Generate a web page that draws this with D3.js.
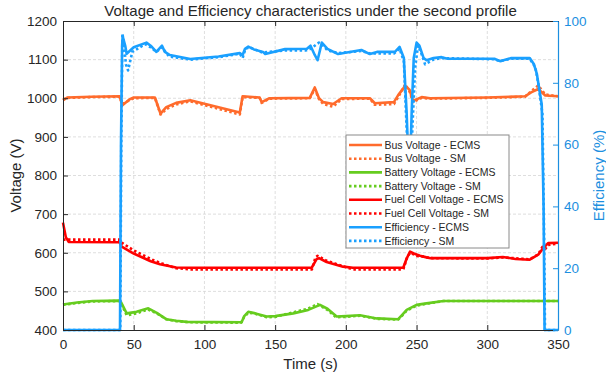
<!DOCTYPE html>
<html>
<head>
<meta charset="utf-8">
<script src="https://cdn.jsdelivr.net/npm/d3@7"></script>
<style>
  html, body { margin: 0; padding: 0; background: #fff; }
  svg { display: block; font-family: "Liberation Sans", Arial, sans-serif; }
</style>
</head>
<body>
<div id="chart"></div>
<script>
// ---------------- DATA ----------------
const xTicks = [0, 50, 100, 150, 200, 250, 300, 350];
const yLeftTicks = [400, 500, 600, 700, 800, 900, 1000, 1100, 1200];
const yRightTicks = [0, 20, 40, 60, 80, 100];

// [time (s), voltage (V)]
const busECMS = [[0,995],[3,1002],[20,1004],[40,1005],[42,982],[47,997],[50,1002],[65,1002],[69,960],[73,977],[80,988],[90,995],[125,963],[127,1005],[139,1002],[140.5,990],[146,1000],[174.5,1001],[178,1028],[181,1000],[184,990],[191,985],[197,1000],[217,1000],[220.5,987],[234,990],[237,1008],[242,1032],[245,1022],[247.5,993],[253.6,1003],[259.5,1000],[300,1002],[326.7,1005],[331,1015],[336,1024],[341,1007],[350,1005]];
const busSM = [[0,996],[3,1001],[20,1003],[40,1004],[42,985],[47,995],[50,1000],[65,1001],[69,958],[73,972],[80,984],[90,992],[125,958],[127,1003],[139,1001],[140.5,988],[146,999],[174.5,1000],[178,1024],[181,998],[184,985],[191,978],[197,998],[217,999],[220.5,983],[234,985],[237,1003],[242,1036],[245,1018],[247.5,990],[253.6,1001],[259.5,999],[300,1001],[326.7,1004],[331,1018],[336,1033],[341,1010],[350,1005]];
const batECMS = [[0,466],[10,471],[21,475],[40,476],[41,472],[45,443],[52,447],[60.3,456],[66,445],[73,428],[80,424],[87.4,421],[126.3,420],[128,435],[131,447],[136,443],[144,435],[150,436],[162.8,443],[173.4,452],[181.7,465],[187,455],[193.5,435],[200,436],[210,438],[221.8,430],[237,428],[240,440],[243,452],[250,465],[257,469],[269,475],[350,475]];
const batSM = [[0,465],[10,470],[21,474],[40,475],[41,470],[45,438],[52,443],[60,453],[66,444],[73,428],[80,423],[90,420],[126,419],[128,433],[131,445],[136,442],[144,433],[150,434],[162,445],[173,455],[180,467],[187,452],[193,433],[200,434],[210,437],[222,429],[237,427],[240,438],[243,450],[250,463],[257,468],[269,475],[350,475]];
const fcECMS = [[0,678],[2,640],[4,628],[40,627],[41.5,616],[50,598],[56.6,587],[62,578],[68.6,570],[80,562],[90,561],[175.8,561],[179.4,584],[181,586],[186.4,576],[198,564],[205,561],[240.6,561],[243,585],[245.4,603],[248,598],[252.4,592],[257,588],[260,586],[300,586],[311,589],[320,584],[330,582],[336,595],[339.6,612],[343,625],[350,626]];
const fcSM = [[0,634],[40,634],[42,625],[50,606],[57,593],[63,582],[70,572],[80,560],[90,557],[176,557],[178.5,588],[180,592],[186,580],[198,565],[205,557],[240.6,557],[243.5,590],[245.5,600],[250,592],[255,590],[260,586],[300,585],[311,588],[330,583],[336,596],[339,615],[341,610],[343,620],[350,624]];
// [time (s), efficiency (%)]
const effECMS = [[0,0],[40.3,0],[41,60],[41.8,92],[42.2,95],[44,92],[45,89.4],[50,91.5],[59,93],[62,92],[66,90],[70,92],[72,90],[75.6,89],[90,87.7],[110,88.5],[125,89.6],[127,89],[128.7,91],[131,91.7],[135,90.8],[141.4,90],[143,89.3],[157,90.9],[172.5,91],[175,92],[178,89],[180,87.3],[183,93],[187,91],[194.5,89.3],[211,90.6],[217,89.3],[222,90],[234.7,90],[238,91.6],[241,88],[243,70],[245,45],[246.5,70],[248,88],[250,93],[252,92],[255,88],[257,87.3],[262,88],[267.7,88.3],[272,87.8],[305,87.8],[309,87],[317,88],[330,88],[333,86],[335,83],[338.5,73],[339.8,40],[340.5,0],[350,0]];
const effSM = [[0,0],[40.5,0],[41.2,60],[42,96],[43,93],[44.5,86],[46,84],[47,86],[49,90],[58,92.5],[62,91.5],[66,90],[70,91.5],[75,88.5],[90,87.5],[110,88.3],[125,89.4],[127,88],[129,91],[132,91.5],[141,89.8],[157,90.5],[172,90.5],[175,91],[178,92],[181,93],[183,92.5],[187,90.5],[195,89.6],[211,90.3],[217,89.5],[234,89.5],[238,91],[241,87],[243,65],[245.5,40],[247,65],[249,85],[251,92],[253,90],[256,86],[262,87.5],[268,88],[305,87.6],[309,87],[317,87.8],[330,87.8],[334,85],[336,80],[339,70],[340.2,30],[340.8,0],[350,0]];

const legendLabels = ["Bus Voltage - ECMS","Bus Voltage - SM","Battery Voltage - ECMS","Battery Voltage - SM","Fuel Cell Voltage - ECMS","Fuel Cell Voltage - SM","Efficiency - ECMS","Efficiency - SM"];

// ---------------- CHART ----------------
const W = 606, H = 377;
const m = {left: 63, right: 48, top: 21, bottom: 47};
const pw = W - m.left - m.right, ph = H - m.top - m.bottom;

const cOrange = "#FF6B2C", cGreen = "#66CC1F", cRed = "#FF0000", cBlue = "#1AA0FF";
const cAxisBlue = "#1C8FE0", cText = "#262626";

const x = d3.scaleLinear().domain([0, 350]).range([0, pw]);
const yL = d3.scaleLinear().domain([400, 1200]).range([ph, 0]);
const yR = d3.scaleLinear().domain([0, 100]).range([ph, 0]);

const svg = d3.select("#chart").append("svg").attr("width", W).attr("height", H);
const g = svg.append("g").attr("transform", `translate(${m.left},${m.top})`);

// grid
const grid = g.append("g");
xTicks.slice(1, -1).forEach(t => {
  grid.append("line").attr("x1", x(t)).attr("x2", x(t)).attr("y1", 0).attr("y2", ph)
    .attr("stroke", "#d6d6d6").attr("stroke-width", 0.8).attr("stroke-dasharray", "3,2");
});
yLeftTicks.slice(1, -1).forEach(t => {
  grid.append("line").attr("x1", 0).attr("x2", pw).attr("y1", yL(t)).attr("y2", yL(t))
    .attr("stroke", "#d6d6d6").attr("stroke-width", 0.8).attr("stroke-dasharray", "3,2");
});

// clip
svg.append("defs").append("clipPath").attr("id", "clip")
  .append("rect").attr("x", -2).attr("y", -2).attr("width", pw + 4).attr("height", ph + 4);
const plot = g.append("g").attr("clip-path", "url(#clip)");

const lineL = d3.line().x(d => x(d[0])).y(d => yL(d[1]));
const lineR = d3.line().x(d => x(d[0])).y(d => yR(d[1]));

const series = [
  {data: busECMS, color: cOrange, dash: null, gen: lineL},
  {data: busSM, color: cOrange, dash: "2.5,2.5", gen: lineL},
  {data: batECMS, color: cGreen, dash: null, gen: lineL},
  {data: batSM, color: cGreen, dash: "2.5,2.5", gen: lineL},
  {data: fcECMS, color: cRed, dash: null, gen: lineL},
  {data: fcSM, color: cRed, dash: "2.5,2.5", gen: lineL},
  {data: effECMS, color: cBlue, dash: null, gen: lineR},
  {data: effSM, color: cBlue, dash: "2.5,2.5", gen: lineR}
];
series.forEach(s => {
  plot.append("path").datum(s.data).attr("d", s.gen)
    .attr("fill", "none").attr("stroke", s.color).attr("stroke-width", 2.6)
    .attr("stroke-linejoin", "round")
    .attr("stroke-dasharray", s.dash);
});

// axes
const fs = 13.5;
const fmt = d3.format("d");
const axB = g.append("g").attr("transform", `translate(0,${ph})`)
  .call(d3.axisBottom(x).tickValues(xTicks).tickFormat(fmt).tickSizeInner(-5).tickSizeOuter(0).tickPadding(9));
const axT = g.append("g")
  .call(d3.axisTop(x).tickValues(xTicks).tickSizeInner(-5).tickSizeOuter(0).tickFormat(""));
const axL = g.append("g")
  .call(d3.axisLeft(yL).tickValues(yLeftTicks).tickFormat(fmt).tickSizeInner(-5).tickSizeOuter(0).tickPadding(6));
const axR = g.append("g").attr("transform", `translate(${pw},0)`)
  .call(d3.axisRight(yR).tickValues(yRightTicks).tickFormat(fmt).tickSizeInner(-5).tickSizeOuter(0).tickPadding(6));

[axB, axT, axL].forEach(a => {
  a.selectAll("path.domain").attr("stroke", cText).attr("stroke-width", 1);
  a.selectAll(".tick line").attr("stroke", cText).attr("stroke-width", 1);
  a.selectAll("text").attr("fill", cText).style("font-size", fs + "px")
    .style("font-family", "'Liberation Sans', Arial, sans-serif");
});
axR.selectAll("path.domain").attr("stroke", cAxisBlue).attr("stroke-width", 1.2);
axR.selectAll(".tick line").attr("stroke", cAxisBlue).attr("stroke-width", 1);
axR.selectAll("text").attr("fill", cAxisBlue).style("font-size", fs + "px")
  .style("font-family", "'Liberation Sans', Arial, sans-serif");

// labels
svg.append("text").attr("x", m.left + pw / 2).attr("y", 16).attr("text-anchor", "middle")
  .attr("fill", cText).style("font-size", "15px").text("Voltage and Efficiency characteristics under the second profile");
svg.append("text").attr("x", m.left + pw / 2).attr("y", 369).attr("text-anchor", "middle")
  .attr("fill", cText).style("font-size", "15px").text("Time (s)");
svg.append("text").attr("transform", `translate(21,${m.top + ph / 2}) rotate(-90)`)
  .attr("text-anchor", "middle").attr("fill", cText).style("font-size", "15px").text("Voltage (V)");
svg.append("text").attr("transform", `translate(604,${m.top + ph / 2}) rotate(-90)`)
  .attr("text-anchor", "middle").attr("fill", cAxisBlue).style("font-size", "15px").text("Efficiency (%)");

// legend
const lgX = 346 - m.left, lgY = 135 - m.top, lgW = 163, lgH = 113, rowH = 13.7;
const lg = g.append("g");
lg.append("rect").attr("x", lgX).attr("y", lgY).attr("width", lgW).attr("height", lgH)
  .attr("fill", "#fff").attr("stroke", "#8a8a8a").attr("stroke-width", 1);
legendLabels.forEach((lab, i) => {
  const yy = lgY + 10 + i * rowH;
  const s = series[i];
  lg.append("line").attr("x1", lgX + 3).attr("x2", lgX + 36).attr("y1", yy).attr("y2", yy)
    .attr("stroke", s.color).attr("stroke-width", 2.6).attr("stroke-dasharray", s.dash);
  lg.append("text").attr("x", lgX + 38.5).attr("y", yy).attr("dy", "0.35em")
    .attr("fill", cText).style("font-size", "10.5px").text(lab);
});
</script>
</body>
</html>
